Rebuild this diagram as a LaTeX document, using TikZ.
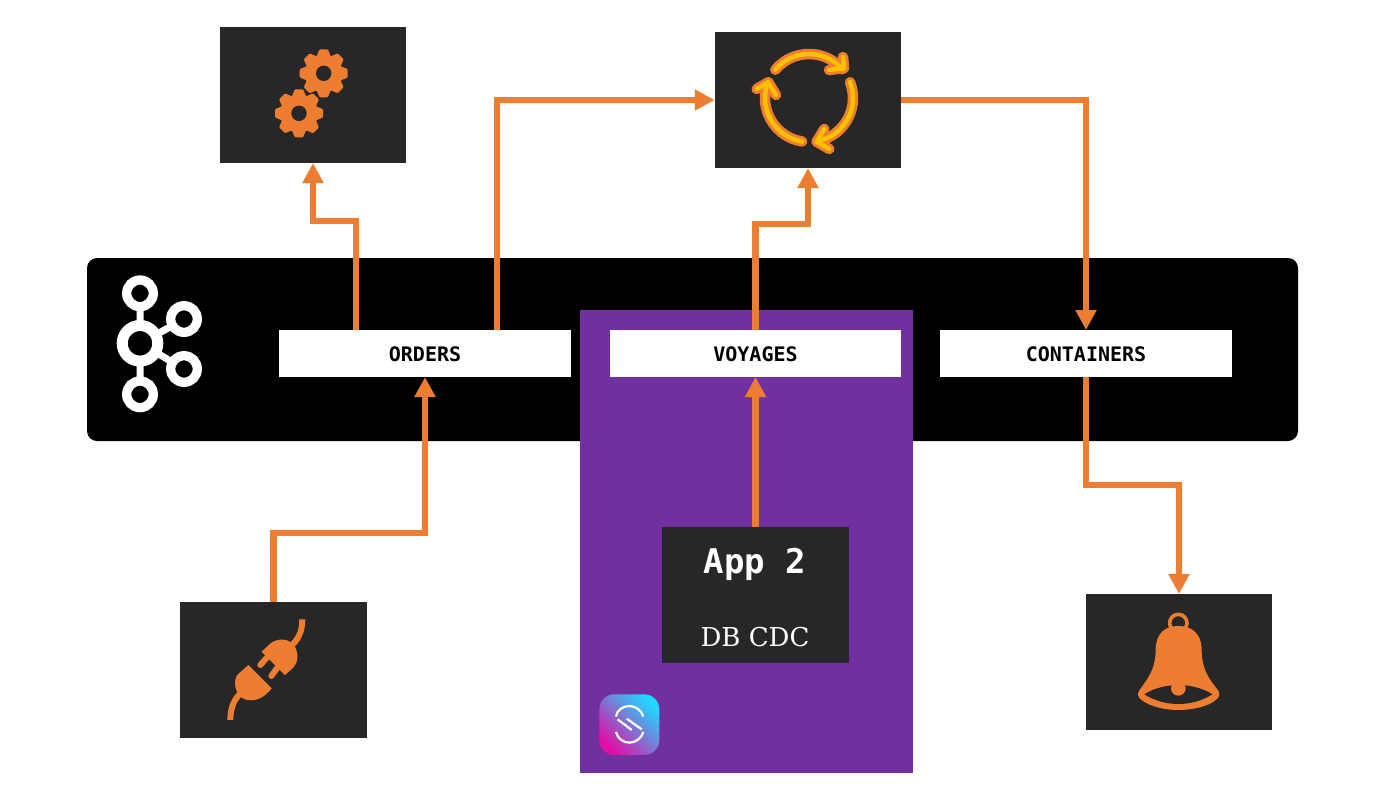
\documentclass[tikz,border=0pt]{standalone}
\usepackage{fontspec}
\setmainfont{DejaVu Serif}
\setmonofont{DejaVu Sans Mono}
\usetikzlibrary{arrows.meta}
\definecolor{panelgrey}{HTML}{272727}
\definecolor{flowor}{HTML}{ED7D31}
\definecolor{cdcpurple}{HTML}{7030A0}
\definecolor{cycleyel}{HTML}{FFC000}
\definecolor{logopink}{HTML}{E00FA5}
\definecolor{logomid}{HTML}{9A45DC}
\definecolor{logocyan}{HTML}{1FD8FF}
\tikzset{
  panel/.style={fill=panelgrey, inner sep=0pt, outer sep=0pt, minimum width=186.5pt, minimum height=136pt},
  topic/.style={fill=white, inner sep=0pt, outer sep=0pt, minimum width=292pt, minimum height=47pt,
    text height=16.5pt, font=\ttfamily\bfseries\fontsize{20}{24}\selectfont},
  flow/.style={draw=flowor, line width=6.5pt, -{Triangle[width=20pt,length=20pt]}},
  icon/.style={fill=flowor, draw=none},
  cyclearc/.style={line cap=round, line join=round}
}
\begin{document}
\begin{tikzpicture}[x=1pt,y=-1pt]
  \useasboundingbox (0,0) rectangle (1400,788);

  % Backdrops
  \node[fill=black, rounded corners=10pt, inner sep=0pt, minimum width=1211pt, minimum height=183pt] (cluster) at (692.5,349.5) {};
  \node[fill=cdcpurple, inner sep=0pt, minimum width=333pt, minimum height=463pt] (cdc) at (746.5,541.5) {};

  % Topics
  \node[topic] (orders) at (425,353.5) {ORDERS};
  \node[topic, minimum width=291pt] (voyages) at (755.5,353.5) {VOYAGES};
  \node[topic] (containers) at (1086,353.5) {CONTAINERS};

  % Panels
  \node[panel] (gears) at (313,95) {};
  \node[panel] (cycle) at (808,100) {};
  \node[panel] (plug) at (273.5,670) {};
  \node[panel] (app) at (755.5,595) {};
  \node[panel] (bell) at (1179,662) {};
  \node[text=white, anchor=base, font=\ttfamily\bfseries\fontsize{34}{40}\selectfont] (apptitle) at (755,573) {App 2};
  \node[text=white, anchor=base, font=\fontsize{26}{32}\selectfont] (appsub) at (755,646.5) {DB CDC};

  % Connectors
  \draw[flow] ([xshift=-69pt]orders.north) -- ++(0,-109) -| (gears.south);
  \draw[flow] ([xshift=72pt]orders.north) |- (cycle.west);
  \draw[flow] (voyages.north) -- ++(0,-106) -| (cycle.south);
  \draw[flow] (cycle.east) -| (containers.north);
  \draw[flow] (containers.south) -- ++(0,108) -| (bell.north);
  \draw[flow] (plug.north) -- ++(0,-69) -| (orders.south);
  \draw[flow] (app.north) -- (voyages.south);

  % Kafka logo
  \draw[white, line width=9.3pt] (140,293.3) circle (13.3) (184,319) circle (13.3) (184,369) circle (13.3) (140,394.3) circle (13.3);
  \draw[white, line width=11pt] (140,343.3) circle (17.8);
  \draw[white, line width=7pt] (140,306) -- (140,325) (140,361) -- (140,381)
    (157,334) -- (172,326) (157,353) -- (172,362);

  % Gears
  \foreach \cx/\cy in {323.7/73.3, 299/113.3} {
    \begin{scope}[shift={(\cx,\cy)}]
      \fill[icon] (0,0) circle (19);
      \foreach \a in {0,45,...,315}
        \fill[icon, rotate=\a, rounded corners=1pt] (-7,-17) -- (-4.2,-24) -- (4.2,-24) -- (7,-17) -- cycle;
      \fill[panelgrey] (0,0) circle (7.7);
    \end{scope}
  }

  % Cycle arrows
  \foreach \col/\wid in {flowor/10.5pt, cycleyel/4.5pt} {
    \begin{scope}[shift={(809,98)}, y=1pt]
      \draw[\col, line width=\wid, cyclearc] (140:44) arc[start angle=140, end angle=41, radius=44] -- (35,30);
      \draw[\col, line width=\wid, cyclearc] (34,41) -- (35,30) -- (20,28);
      \draw[\col, line width=\wid, cyclearc] (21:44) arc[start angle=21, end angle=-80, radius=44] -- (7.7,-43.7);
      \draw[\col, line width=\wid, cyclearc] (15.3,-31) -- (7.7,-43.7) -- (20.3,-51);
      \draw[\col, line width=\wid, cyclearc] (-99:44) arc[start angle=-99, end angle=-200, radius=44] -- (-40.7,15.7);
      \draw[\col, line width=\wid, cyclearc] (-52.3,9) -- (-40.7,15.7) -- (-33,3);
    \end{scope}
  }

  % Plug
  \begin{scope}[shift={(180,600)}, scale=0.3333]
    \fill[icon] (245,155) -- (272,130) .. controls (295,112) and (330,115) .. (345,140)
      .. controls (358,165) and (352,190) .. (340,203) -- (315,225) -- cycle;
    \fill[icon] (205,195) -- (275,265) .. controls (255,292) and (225,308) .. (195,298)
      .. controls (170,290) and (160,255) .. (168,232) .. controls (172,222) and (180,218) .. (205,195) -- cycle;
    \draw[flowor, line width=6pt, line cap=round] (265,168) -- (241,195) (298,195) -- (274,228);
    \draw[flowor, line width=6pt] (330,140) .. controls (355,120) and (367,95) .. (367,58);
    \draw[flowor, line width=6pt] (182,280) .. controls (165,295) and (151,320) .. (151,360);
  \end{scope}

  % Bell
  \begin{scope}[shift={(1085,590)}, scale=0.3333]
    \draw[flowor, line width=3.6pt] (280,99) circle (26);
    \fill[icon] (280,108) .. controls (240,108) and (212,130) .. (212,180)
      .. controls (212,240) and (185,270) .. (165,298) .. controls (155,310) and (158,322) .. (170,330)
      .. controls (195,350) and (240,360) .. (280,360) .. controls (320,360) and (370,350) .. (392,330)
      .. controls (404,322) and (407,310) .. (397,298) .. controls (375,270) and (350,240) .. (350,180)
      .. controls (350,130) and (320,108) .. (280,108) -- cycle;
    \fill[panelgrey] (178,313) .. controls (205,295) and (245,285) .. (280,285)
      .. controls (315,285) and (355,295) .. (382,313) .. controls (350,333) and (315,342) .. (280,342)
      .. controls (245,342) and (210,333) .. (178,313) -- cycle;
    \fill[icon] (280,295) circle (22);
  \end{scope}

  % Logo of the CDC platform
  \begin{scope}[shift={(590,520)}, scale=0.3333]
    \shade[rounded corners=15pt, bottom color=logopink, middle color=logomid, top color=logocyan, shading angle=-45]
      (28,523) rectangle (208,705);
    \draw[white, line width=2.2pt] (160,590) .. controls (155,570) and (135,558) .. (118,558)
      .. controls (100,558) and (80,570) .. (78,590);
    \draw[white, line width=2.2pt] (78,636) .. controls (82,655) and (100,668) .. (118,668)
      .. controls (136,668) and (155,655) .. (160,636);
    \draw[white, line width=2.2pt] (83,598) -- (125,630) (110,596) -- (155,628);
  \end{scope}
\end{tikzpicture}
\end{document}
